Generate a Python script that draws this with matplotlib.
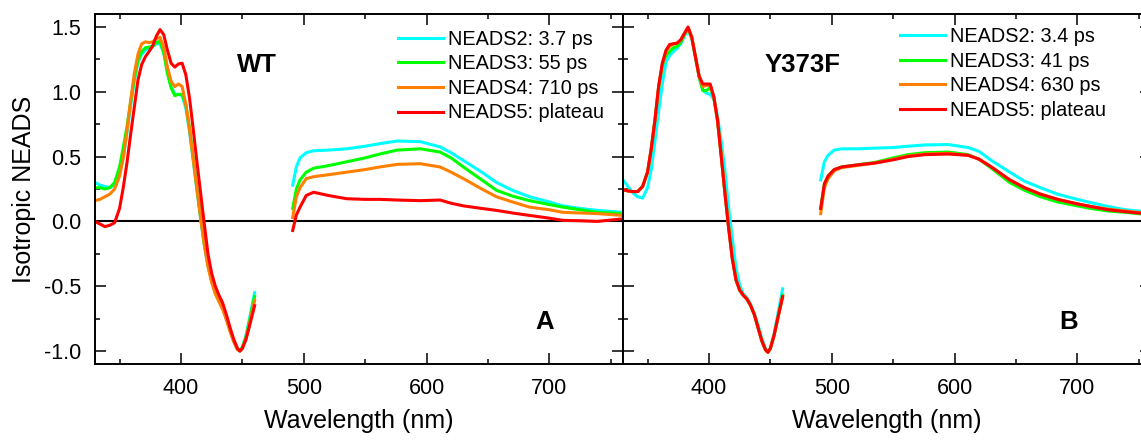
import matplotlib
matplotlib.use("Agg")
import matplotlib.pyplot as plt
from matplotlib.ticker import MultipleLocator

plt.rcParams['font.family'] = ['Liberation Sans', 'DejaVu Sans']
plt.rcParams['axes.unicode_minus'] = False

# ---------------- data ----------------
uv_nm = [330, 334, 338, 342, 346, 350, 353, 356, 359, 362, 365, 368, 371, 374, 377,
         380, 383, 386, 389, 392, 395, 398, 401, 404, 407, 410, 413, 416, 419, 422,
         425, 428, 431, 434, 437, 440, 443, 446, 448, 450, 453, 456, 460]
vis_nm = [491, 494, 497, 502, 508, 520, 535, 550, 562, 576, 595, 611, 620, 630, 645,
          657, 670, 684, 700, 711, 725, 739, 760]

# WT
wt_uv_n2 = [0.30, 0.28, 0.27, 0.26, 0.28, 0.37, 0.49, 0.68, 0.89, 1.08, 1.23, 1.29, 1.32, 1.34, 1.35,
            1.37, 1.37, 1.30, 1.16, 1.04, 0.98, 0.98, 0.97, 0.87, 0.69, 0.47, 0.24, 0.02, -0.18, -0.34,
            -0.46, -0.55, -0.61, -0.66, -0.74, -0.84, -0.92, -0.98, -1.00, -0.97, -0.88, -0.74, -0.55]
wt_uv_n3 = [0.26, 0.26, 0.25, 0.26, 0.30, 0.42, 0.57, 0.73, 0.92, 1.10, 1.24, 1.31, 1.34, 1.345, 1.35,
            1.38, 1.39, 1.30, 1.14, 1.03, 0.97, 0.98, 0.98, 0.90, 0.72, 0.49, 0.26, 0.04, -0.17, -0.33,
            -0.45, -0.55, -0.61, -0.67, -0.75, -0.84, -0.92, -0.98, -1.00, -0.97, -0.89, -0.76, -0.58]
wt_uv_n4 = [0.16, 0.17, 0.19, 0.21, 0.25, 0.35, 0.49, 0.70, 0.93, 1.14, 1.29, 1.37, 1.385, 1.38, 1.385,
            1.41, 1.42, 1.34, 1.19, 1.08, 1.04, 1.06, 1.04, 0.90, 0.71, 0.48, 0.25, 0.03, -0.18, -0.35,
            -0.47, -0.56, -0.62, -0.68, -0.76, -0.85, -0.93, -0.99, -1.00, -0.98, -0.90, -0.78, -0.61]
wt_uv_n5 = [0.00, -0.02, -0.04, -0.03, -0.01, 0.10, 0.26, 0.45, 0.67, 0.88, 1.09, 1.21, 1.27, 1.31, 1.355,
            1.43, 1.48, 1.44, 1.32, 1.22, 1.19, 1.215, 1.22, 1.13, 0.95, 0.71, 0.46, 0.22, -0.02, -0.25,
            -0.40, -0.50, -0.57, -0.63, -0.72, -0.82, -0.91, -0.98, -1.00, -0.98, -0.91, -0.80, -0.65]

wt_vis_n2 = [0.28, 0.42, 0.49, 0.53, 0.545, 0.55, 0.56, 0.58, 0.60, 0.62, 0.615, 0.575, 0.53, 0.47, 0.38,
             0.30, 0.24, 0.19, 0.15, 0.12, 0.10, 0.085, 0.07]
wt_vis_n3 = [0.10, 0.25, 0.32, 0.38, 0.41, 0.43, 0.46, 0.49, 0.52, 0.55, 0.56, 0.535, 0.49, 0.42, 0.32,
             0.24, 0.195, 0.16, 0.13, 0.11, 0.09, 0.07, 0.06]
wt_vis_n4 = [0.03, 0.19, 0.26, 0.33, 0.345, 0.36, 0.38, 0.40, 0.42, 0.44, 0.445, 0.42, 0.38, 0.33, 0.25,
             0.19, 0.15, 0.11, 0.09, 0.07, 0.065, 0.06, 0.046]
wt_vis_n5 = [-0.07, 0.05, 0.11, 0.20, 0.225, 0.20, 0.175, 0.17, 0.17, 0.165, 0.16, 0.165, 0.14, 0.12, 0.10,
             0.085, 0.065, 0.046, 0.025, 0.008, 0.005, 0.0, 0.02]

# Y373F
y_uv_n2 = [0.32, 0.27, 0.22, 0.19, 0.18, 0.26, 0.40, 0.62, 0.85, 1.06, 1.23, 1.28, 1.31, 1.335, 1.37,
           1.43, 1.48, 1.41, 1.27, 1.12, 1.01, 0.99, 0.98, 0.94, 0.81, 0.62, 0.39, 0.11, -0.13, -0.36,
           -0.49, -0.56, -0.59, -0.64, -0.71, -0.80, -0.90, -0.98, -1.00, -0.98, -0.87, -0.72, -0.52]
y_uv_n3 = [0.245, 0.235, 0.23, 0.23, 0.27, 0.38, 0.56, 0.78, 1.03, 1.20, 1.28, 1.31, 1.34, 1.35, 1.38,
           1.44, 1.49, 1.42, 1.27, 1.11, 1.01, 1.01, 1.03, 0.96, 0.78, 0.51, 0.22, -0.04, -0.28, -0.45,
           -0.53, -0.57, -0.60, -0.65, -0.72, -0.82, -0.92, -0.99, -1.01, -0.98, -0.88, -0.75, -0.57]
y_uv_n4 = [0.245, 0.235, 0.23, 0.23, 0.27, 0.38, 0.56, 0.78, 1.04, 1.21, 1.31, 1.35, 1.37, 1.375, 1.40,
           1.45, 1.49, 1.42, 1.27, 1.12, 1.04, 1.05, 1.05, 0.96, 0.77, 0.51, 0.22, -0.04, -0.28, -0.45,
           -0.53, -0.57, -0.60, -0.65, -0.72, -0.82, -0.92, -0.99, -1.01, -0.98, -0.88, -0.75, -0.58]
y_uv_n5 = [0.245, 0.235, 0.23, 0.23, 0.27, 0.38, 0.56, 0.78, 1.04, 1.22, 1.32, 1.365, 1.37, 1.375, 1.40,
           1.45, 1.50, 1.42, 1.27, 1.12, 1.06, 1.06, 1.06, 0.96, 0.78, 0.50, 0.22, -0.05, -0.29, -0.45,
           -0.53, -0.57, -0.60, -0.65, -0.72, -0.82, -0.92, -0.99, -1.01, -0.98, -0.88, -0.75, -0.58]

y_vis_n2 = [0.32, 0.46, 0.51, 0.55, 0.56, 0.56, 0.565, 0.57, 0.58, 0.59, 0.593, 0.57, 0.54, 0.47, 0.38,
            0.31, 0.26, 0.21, 0.17, 0.145, 0.115, 0.09, 0.07]
y_vis_n3 = [0.10, 0.29, 0.35, 0.40, 0.42, 0.435, 0.455, 0.49, 0.515, 0.53, 0.535, 0.515, 0.48, 0.41, 0.30,
            0.24, 0.19, 0.15, 0.12, 0.10, 0.08, 0.07, 0.05]
y_vis_n4 = [0.06, 0.26, 0.33, 0.39, 0.415, 0.43, 0.45, 0.48, 0.505, 0.52, 0.525, 0.51, 0.48, 0.42, 0.32,
            0.26, 0.21, 0.17, 0.135, 0.115, 0.095, 0.08, 0.06]
y_vis_n5 = [0.10, 0.29, 0.35, 0.40, 0.42, 0.435, 0.45, 0.475, 0.50, 0.515, 0.52, 0.51, 0.48, 0.42, 0.32,
            0.26, 0.21, 0.17, 0.135, 0.115, 0.09, 0.075, 0.055]

wt_labels = ["NEADS2: 3.7 ps", "NEADS3: 55 ps", "NEADS4: 710 ps", "NEADS5: plateau"]
y_labels = ["NEADS2: 3.4 ps", "NEADS3: 41 ps", "NEADS4: 630 ps", "NEADS5: plateau"]
colors = ["#00FFFF", "#00FF00", "#FF8000", "#FF0000"]

# ---------------- figure ----------------
W, H = 1141, 440
fig = plt.figure(figsize=(W / 100, H / 100), dpi=100)


def px_rect(x0, y0, x1, y1):
    return [x0 / W, 1 - y1 / H, (x1 - x0) / W, (y1 - y0) / H]


axL = fig.add_axes(px_rect(95, 14, 623, 364))
axR = fig.add_axes(px_rect(623, 14, 1151, 364))

panels = [
    (axL, [wt_uv_n2, wt_uv_n3, wt_uv_n4, wt_uv_n5], [wt_vis_n2, wt_vis_n3, wt_vis_n4, wt_vis_n5], wt_labels),
    (axR, [y_uv_n2, y_uv_n3, y_uv_n4, y_uv_n5], [y_vis_n2, y_vis_n3, y_vis_n4, y_vis_n5], y_labels),
]

for ax, uvs, viss, labels in panels:
    ax.axhline(0, color="black", lw=1.5, zorder=1)
    handles = []
    for uv, vis, lab, c in zip(uvs, viss, labels, colors):
        h, = ax.plot(uv_nm, uv, color=c, lw=2.2, label=lab, zorder=2)
        ax.plot(vis_nm, vis, color=c, lw=2.2, zorder=2)
        handles.append(h)
    ax.set_xlim(330, 760)
    ax.set_ylim(-1.1, 1.6)
    ax.xaxis.set_major_locator(MultipleLocator(100))
    ax.xaxis.set_minor_locator(MultipleLocator(50))
    ax.yaxis.set_major_locator(MultipleLocator(0.5))
    ax.yaxis.set_minor_locator(MultipleLocator(0.25))
    ax.tick_params(which="both", direction="in", top=True, right=True, width=1.1,
                   labelsize=15.5, pad=10)
    ax.tick_params(which="major", length=7.7)
    ax.tick_params(which="minor", length=3.4)
    for s in ax.spines.values():
        s.set_linewidth(1.4)
    ax.set_xlabel("Wavelength (nm)", fontsize=18)
    ax.xaxis.set_label_coords(0.5, -0.129)

axL.yaxis.set_major_formatter(matplotlib.ticker.FormatStrFormatter("%.1f"))
axR.tick_params(labelleft=False)
axL.set_ylabel("Isotropic NEADS", fontsize=18)
axL.yaxis.set_label_coords(-0.111, 0.5)

leg_kw = dict(loc="upper left", frameon=False, fontsize=14.3, handlelength=2.27,
              handletextpad=0.25, labelspacing=0.28, borderpad=0, borderaxespad=0,
              bbox_transform=fig.transFigure)
axL.legend(bbox_to_anchor=(398 / W, 1 - 29.8 / H), **leg_kw)
axR.legend(bbox_to_anchor=(900 / W, 1 - 27.2 / H), **leg_kw)

txt_kw = dict(ha="center", va="baseline", fontsize=18.5, fontweight="bold")
fig.text(256.7 / W, 1 - 71.7 / H, "WT", **txt_kw)
fig.text(803 / W, 1 - 71.7 / H, "Y373F", **txt_kw)
fig.text(544.5 / W, 1 - 329 / H, "A", **txt_kw)
fig.text(1068.3 / W, 1 - 328.5 / H, "B", **txt_kw)

fig.savefig("out.png", dpi=100)
